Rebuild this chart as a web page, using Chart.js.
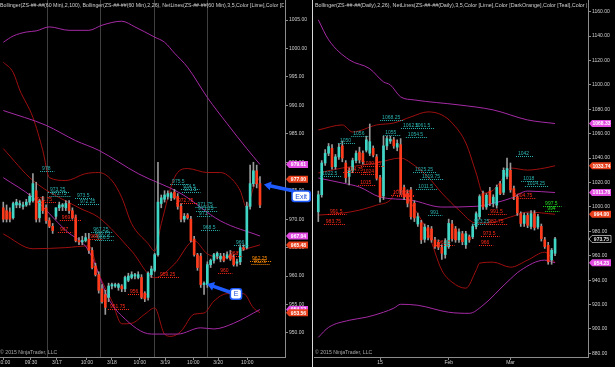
<!DOCTYPE html>
<html><head><meta charset="utf-8">
<script src="https://cdn.jsdelivr.net/npm/chart.js@4"></script>
<style>
html,body{margin:0;padding:0;background:#000;width:615px;height:367px;overflow:hidden}
#l{position:absolute;left:0;top:0}
#r{position:absolute;left:314px;top:0}
#sep{position:absolute;left:312px;top:0;width:1px;height:367px;background:#d8d8d8}
</style></head><body>
<canvas id="l" width="313" height="367" style="width:313px;height:367px"></canvas>
<div id="sep"></div>
<canvas id="r" width="301" height="367" style="width:301px;height:367px"></canvas>
<script>
// ---------- LEFT PANEL (60 Min) ----------
const leftOpen  = [972,971.5,971.25,970.25,972.5,972.5,972.25,972.5,973,973.25,975,970.25,973.25,972,969.75,968.75,970.5,972,972.25,972,972.75,971.5,970.25,966.25,966,966.25,966.5,964.5,961.75,960.25,957.75,956.75,956.25,958.25,958.25,958,958.25,957.75,959.25,959.75,960,959.75,959.75,957,956.25,960.25,961,963.75,972.75,973.5,974,973.75,974.75,974,972.25,970,970.75,970,966.5,963.75,963.5,958.5,958.5,962,962.75,963.5,963,963.5,963.25,963.75,963.25,962.25,962.5,965,965,972.25,976.25,978.5,976.25];
const leftHigh  = [973,972.5,972,973,973.5,973.25,973,973.5,974.5,978,976.5,973.5,974,972.5,970.25,969.25,972,973,972.75,973.25,973.25,972,970.75,966.75,967,967.5,967.5,965,962.25,960.75,958.5,957.5,958.75,958.75,958.75,958.75,958.5,960,960.5,960.75,960.5,960.75,960.25,957.25,960.75,961.75,964,980,974.25,975,975,974.75,975.25,974.5,972.75,971,971,970.5,967,964,964,959,962.5,963,964,964.25,964,964,964.25,964.5,963.75,963,965.5,965.5,973,979.5,980,979.5,977.5];
const leftLow   = [969.5,969.5,969.5,970,972,972,971.75,972.25,972.5,973,969.5,969.5,971,969.25,968.5,967.5,970,971.5,971.5,971.5,971,970,966,965.5,965.5,966,964,961.25,960,957,955.25,953.25,955.5,957.75,958,957.5,957.25,957.25,959,959.5,959.5,959.5,956,955.5,955.75,959.75,960.75,963.5,972,973,973.5,973.25,973.5,971.75,969.5,969.5,970,966,963.5,961,958,956.75,958,961.5,962.25,963,962.5,962.5,963,962.75,961.75,961.75,962,964.5,964.75,971.75,975.75,975.5,972];
const leftClose = [970,970,970,972.75,973,972.75,972.5,973,974,976.25,970,973.25,971.5,969.75,968.75,968,972,972.5,972.5,972.75,971.5,970.25,966.25,966,966.25,966.75,964.5,961.5,960.25,957.5,955.5,954.5,958.25,958.5,958.5,958.5,957.75,959.75,960,960.25,960.25,960.25,956.25,956,960.5,961.25,963.75,973,973.75,974.25,974.5,974.5,973.75,972.25,970,970.5,970.25,966.25,963.75,961.5,958.5,958.75,962,962.75,963.75,964,963.5,962.75,963.75,963,962,962.5,965,964.75,972.25,976.25,978.5,976.25,972.5];

const leftUpper100X = [0,3,7,10,14,20,26,30,36,40,46,49,52,56,62,68,74,78];
const leftUpper100  = [1001.1,1002.2,1002.9,1003.1,1003.8,1003.2,1003.2,1004.1,1004.8,1003.8,1002.0,1001.1,999.2,996.7,991.4,986.8,982.4,979.61];
const leftMid100X   = [0,13,22,29,41,54,66,78];
const leftMid100    = [989.1,986.5,983.8,982.1,978.0,974.5,969.7,967.04];
const leftLower100X = [0,9,19,26,32,36,45,53,60,64,70,78];
const leftLower100  = [977.3,973.8,968.0,964.4,956.0,953.0,949.8,949.8,950.9,950.7,951.7,954.12];
const leftUpper26X  = [0,3,5,9,12,14,19,25,29,33,36,39,44,46,48,52,56,62,66,69,72,74,76,78];
const leftUpper26   = [997.6,995.8,992.7,987.9,982.1,977.3,976.8,978.0,978.2,976.8,973.8,969.2,965.7,964.4,969.2,977.3,978.9,978.2,978.2,977.3,975.0,972.0,975.5,977.4];
const leftMid26X    = [0,9,23,29,39,46,52,58,62,68,72,78];
const leftMid26     = [982.4,976.8,972.0,970.3,964.4,959.7,962.1,966.2,963.9,963.2,964.4,965.48];
const leftLower26X  = [0,9,19,26,29,33,36,39,43,46,49,51,54,58,61,64,68,73,76,78];
const leftLower26   = [967.4,964.8,965.0,965.3,960.4,955.6,951.6,951.7,953.3,954.4,949.8,949.4,950.3,953.3,953.5,955.6,956.9,956.9,954.4,953.56];

const leftTickPos    = [0.2,8.4,16.3,25.4,33,41.5,49.2,57.7,65.3,74.1];
const leftTickLabels = ["10:00","09:30","3/17","10:00","3/18","10:00","3/19","10:00","3/20","10:00"];
const leftSessionBreaks = [13.3,29.4,45.8,61.9];
const leftYTicks = {min:945.77, max:1008.53, step:5};

const leftTags = [[979.61,"979.61","#e24be2"],[977.00,"977.00","#e8401c"],[967.04,"967.04","#e24be2"],[965.48,"965.48","#e8401c"],[954.12,"954.12","#e24be2"],[953.56,"953.56","#e8401c"]];

const TEAL="#2bb3b0", RED="#ff2a1a", ORANGE="#ff8c00", LIME="#22dd22";
const leftNet = [
 [11.8,978.5,"978",TEAL],[14.2,974.7,"973.25",TEAL],[14.6,974.0,"972.75",TEAL],[22.4,973.8,"973.5",TEAL],[23.3,972.7,"972.25",TEAL],
 [27.3,967.8,"967.25",TEAL],[27.8,967.0,"966.75",TEAL],[28.5,966.3,"966.5",TEAL],[51.3,976.25,"975.5",TEAL],[54.6,975.3,"974.5",TEAL],[54.9,974.7,"973.5",TEAL],
 [59.0,972.2,"971.75",TEAL],[59.2,971.5,"971.25",TEAL],[59.5,970.6,"971",TEAL],[60.7,968.1,"968.5",TEAL],[70.7,965.5,"966",TEAL],
 [10.2,973.1,"971.75",RED],[17.8,969.9,"969.75",RED],[17.2,967.8,"967",RED],[26.4,966.6,"966",RED],[47.6,959.9,"959.25",RED],
 [38.5,956.9,"956.5",RED],[32.4,954.2,"951.75",RED],[53.1,972.9,"972.75",RED],[65.9,960.6,"960",RED],[68.9,963.6,"963",RED],
 [75.6,962.7,"962.25",ORANGE],[76.0,962.2,"962.5",ORANGE]
];

// ---------- RIGHT PANEL (Daily) ----------
const rightOpen  = [996,1010,1036,1044,1048,1033,1041,1050,1036,1025,1030,1038,1045,1044,1046.5,1044,1048,1041,1024,1009,1050,1054,1055,1049,1051,1016,1011,1014,1003,986,987,973.5,983,982,973,971,967,961,967.5,986,982,973,978,969,975.5,975.5,984,992,1011,1000,1013,1003,1001.5,1019,1012,1025,1030,1015,1008,994.5,986.5,993,984,994.5,983.5,984,973,968.5,956.5,962];
const rightHigh  = [1013,1038,1047,1052,1051,1043,1052,1054,1038,1032,1040,1046,1049,1046,1058,1068,1050,1043,1026,1058,1058,1058,1057,1055,1056,1018,1014,1016,1005,995,989,986,985,984,975,973,969,974,990,989,984,982,980,980,977,986,996,1010,1013,1011,1016,1010,1018,1021,1032,1040,1036,1017,1010,996,995,995,997,997,994,986,975,971,966,975];
const rightLow   = [988,1008,1034,1042,1031,1031,1039,1037,1020,1018,1028,1036,1036,1035,1045,1042,1041,1022,1004,1006,1047,1052,1048,1046,1010,1006,1000,990,988,984,970,971,973,971,966,965,957,958,966,972,971,971,969,966,971,974,982,990,998,998,1001,1000,999,1010,1010,1023,1012,1006,993,984,984,983,982,981,982,972,966,953,953,960];
const rightClose = [1010,1036,1044,1049.5,1033,1041,1049,1040,1024,1030,1038,1044,1038.5,1037,1055,1053.5,1042.5,1023.5,1008,1050,1056,1055.5,1050,1052,1014,1008,1003,992,991,992,973,983.5,975,973,967.5,967,962,972.5,986.5,974,973,979.5,971.5,978,973,984,994.5,1008.5,1000,1009.5,1003,1008,1016,1011,1030,1031.5,1014,1008.5,995,986.5,993,985,994.5,983,992,974,967.5,955,964.5,973.75];

const rightUpper100X = [0,3,9,15,19,21,24,28,41,51,61,69];
const rightUpper100  = [1153.4,1137.0,1120.6,1113.3,1102.5,1100.0,1090.2,1087.7,1083.6,1079.5,1071.3,1068.33];
const rightMid100X   = [0,7,12,18,27,36,46,51,56,61,69];
const rightMid100    = [1023.7,1019.6,1016.3,1008.1,1005.6,999.9,1000.5,1003.0,1007.0,1013.0,1011.78];
const rightLower100X = [0,3,9,14,19,22,24,29,38,44,48,55,59,66,69];
const rightLower100  = [893.1,901.3,907.1,909.6,913.7,917.0,920.2,919.4,913.7,912.8,919.4,938.3,948.1,956.4,954.23];
const rightUpper26X  = [0,7,10,17,22,27,32,36,39,43,46,48,51,54,56,61,66,69];
const rightUpper26   = [1063.1,1067.2,1061.4,1067.2,1068.8,1073.8,1077.9,1075.4,1068.8,1052.4,1027.8,1011.4,1013.8,1024.5,1031.9,1030.2,1031.9,1033.74];
const rightMid26X    = [0,7,17,24,27,32,36,41,46,49,56,61,69];
const rightMid26     = [1027.8,1031.9,1036.0,1040.1,1036.0,1024.5,1011.4,997.4,986.7,986.7,991.7,995.8,994.0];
const rightLower26X  = [0,7,12,17,21,23,25,27,32,36,39,43,46,47,51,56,61,66,69];
const rightLower26   = [993.3,994.9,997.4,1001.5,1005.6,1013.8,1011.4,1003.2,978.5,948.1,938.3,933.4,948.1,953.9,954.7,950.6,956.4,962.9,954.3];

const rightTickPos    = [18,38,56];
const rightTickLabels = ["15","Feb","Mar"];
const rightYTicks = {min:877.0, max:1169.6, step:20};

const rightTags = [[1068.33,"1068.33","#e24be2"],[1033.74,"1033.74","#e8401c"],[1011.78,"1011.78","#e24be2"],[994.00,"994.00","#e8401c"],[973.75,"973.75","outline"],[954.23,"954.23","#e24be2"]];

const rightNet = [
 [18.6,1071.3,"1068.25",TEAL],[24.7,1064.7,"1062.5",TEAL],[28.2,1064.7,"1061.5",TEAL],[26.1,1057.3,"1054.5",TEAL],[19.5,1059.0,"1055",TEAL],
 [10.2,1058.0,"1056",TEAL],[6.3,1052.4,"1050",TEAL],[1.1,1025.3,"1022.5",TEAL],[28.2,1028.6,"1025.25",TEAL],[30.2,1022.9,"1019.75",TEAL],
 [29.1,1014.6,"1011.5",TEAL],[32.6,993.3,"991",TEAL],[58.2,1041.7,"1042",TEAL],[59.7,1021.2,"1018",TEAL],[60.8,1017.1,"1014.25",TEAL],[45.4,985.9,"983.25",TEAL],
 [7.8,1028.6,"1034.75",RED],[13.0,1033.5,"1030.25",RED],[13.0,1027.0,"1024",RED],[12.2,1017.9,"1015",RED],[21.8,1009.7,"1000.75",RED],[23.5,1009.0,"1002",RED],
 [3.4,994.1,"991.5",RED],[2.2,985.9,"983.75",RED],[50.1,994.1,"991.5",RED],[49.5,985.9,"982.75",RED],[48.0,976.1,"973.5",RED],[47.4,968.7,"966",RED],
 [34.9,968.7,"961.5",RED],[57.1,1007.3,"1004.75",RED],
 [66.1,1000.7,"997.5",LIME],[66.7,996.6,"994",LIME]
];

// Annotations (data coordinates: bar index, price)
const exitArrow = {tip:[79.2,976.1], tail:[88.0,975.0], box:[90.5,974.05], text:"Exit"};
const entryArrow = {tip:[61.9,958.6], tail:[68.8,957.2], box:[70.7,956.85], text:"E"};

// ---------- helpers ----------
const FONT = '"Liberation Sans", Arial, sans-serif';
const UP = "#3fd6c6", DOWN = "#ff3b1c", WICK = "#9a9a9a", PURPLE = "#a52aa5", DARKRED = "#9e0f0f";

function pts(xs, ys){ return xs.map((x,i)=>({x:x, y:ys[i]})); }
function bandSet(xs, ys, color){
  return {type:'line', data:pts(xs,ys), borderColor:color, borderWidth:1, pointRadius:0, cubicInterpolationMode:'monotone', fill:false, order:5};
}
function candleSets(O,H,L,C){
  return [
    {type:'bar', data:H.map((h,i)=>({x:i, y:[L[i],h]})), backgroundColor:WICK, barThickness:1, grouped:false, order:3},
    {type:'bar', data:O.map((o,i)=>({x:i, y:[Math.min(o,C[i]), Math.max(o,C[i])]})), backgroundColor:O.map((o,i)=>C[i]>=o?UP:DOWN), barThickness:2, grouped:false, minBarLength:1, order:2}
  ];
}

function overlayPlugin(cfg){
  return {
    id:'overlay'+cfg.name,
    afterDatasetsDraw(chart){
      const {ctx, chartArea:a, scales:{x,y}} = chart;
      ctx.save();
      ctx.beginPath(); ctx.rect(a.left, a.top, a.right-a.left, a.bottom-a.top); ctx.clip();
      ctx.font = '5px '+FONT; ctx.textBaseline='alphabetic'; ctx.textAlign='left';
      cfg.net.forEach(l=>{
        const px = x.getPixelForValue(l[0]), py = Math.round(y.getPixelForValue(l[1]))+0.5;
        ctx.fillStyle = l[3]; ctx.fillText(l[2], px, py-1.5);
        const w = ctx.measureText(l[2]).width + 4;
        ctx.strokeStyle = l[3]; ctx.lineWidth = 1; ctx.setLineDash([1,1]);
        ctx.beginPath(); ctx.moveTo(px-2, py); ctx.lineTo(px+w, py); ctx.stroke();
      });
      ctx.restore();
    },
    afterDraw(chart){
      const {ctx, chartArea:a, scales:{x,y}} = chart;
      ctx.save();
      // title
      ctx.save(); ctx.beginPath(); ctx.rect(0,0,a.right-1,12); ctx.clip();
      ctx.font = cfg.titleSize+'px '+FONT; ctx.fillStyle='#d0d0d0'; ctx.textAlign='left';
      ctx.fillText(cfg.title, a.left+cfg.titleDx, 7);
      ctx.restore();
      // copyright
      ctx.font = '5.2px '+FONT; ctx.fillStyle='#a8a8a8';
      ctx.fillText("\u00A9 2015 NinjaTrader, LLC", a.left+cfg.titleDx, a.bottom-3);
      // price tags
      ctx.font = 'bold 5px '+FONT; ctx.textAlign='center'; ctx.textBaseline='middle';
      cfg.tags.forEach(t=>{
        const py = y.getPixelForValue(t[0]); const x0 = a.right+1; const w = 22, h = 7;
        ctx.beginPath();
        ctx.moveTo(x0, py); ctx.lineTo(x0+3, py-h/2); ctx.lineTo(x0+w, py-h/2); ctx.lineTo(x0+w, py+h/2); ctx.lineTo(x0+3, py+h/2); ctx.closePath();
        if (t[2]==='outline'){ ctx.fillStyle='#000'; ctx.fill(); ctx.strokeStyle='#c8c8c8'; ctx.lineWidth=0.8; ctx.stroke(); ctx.fillStyle='#e0e0e0'; }
        else { ctx.fillStyle=t[2]; ctx.fill(); ctx.fillStyle='#ffffff'; }
        ctx.fillText(t[1], x0+3+(w-3)/2, py+0.5);
      });
      // arrows
      (cfg.arrows||[]).forEach(ar=>{
        const tx=x.getPixelForValue(ar.tip[0]), ty=y.getPixelForValue(ar.tip[1]);
        const sx=x.getPixelForValue(ar.tail[0]), sy=y.getPixelForValue(ar.tail[1]);
        const ang=Math.atan2(ty-sy, tx-sx);
        const hx = tx - 7*Math.cos(ang), hy = ty - 7*Math.sin(ang);
        ctx.strokeStyle='#1f5cff'; ctx.lineWidth=3.5; ctx.lineCap='round';
        ctx.beginPath(); ctx.moveTo(sx,sy); ctx.lineTo(hx,hy); ctx.stroke();
        ctx.fillStyle='#1f5cff';
        ctx.beginPath(); ctx.moveTo(tx,ty);
        ctx.lineTo(hx+4.5*Math.sin(ang), hy-4.5*Math.cos(ang));
        ctx.lineTo(hx-4.5*Math.sin(ang), hy+4.5*Math.cos(ang)); ctx.closePath(); ctx.fill();
        const bx=x.getPixelForValue(ar.box[0]), by=y.getPixelForValue(ar.box[1]);
        ctx.font='7px '+FONT;
        const bw = ctx.measureText(ar.text).width+8, bh=12;
        ctx.beginPath(); ctx.roundRect(bx-bw/2, by-bh/2, bw, bh, 3);
        ctx.fillStyle='#1f5cff'; ctx.fill();
        ctx.beginPath(); ctx.roundRect(bx-bw/2+1.5, by-bh/2+1.5, bw-3, bh-3, 2);
        ctx.fillStyle='#ffffff'; ctx.fill();
        ctx.fillStyle='#1f4fd8'; ctx.textAlign='center'; ctx.textBaseline='middle';
        ctx.fillText(ar.text, bx, by+0.5);
      });
      ctx.restore();
    }
  };
}

function makeChart(id, o){
  const xMin=o.xMin, xMax=o.xMax;
  const scales = {
    x:{type:'linear', min:xMin, max:xMax, offset:false, position:'bottom', weight:2,
       afterBuildTicks:s=>{ s.ticks = o.tickPos.map(v=>({value:v})); },
       afterFit:s=>{ s.height=10; s.paddingLeft=0; s.paddingRight=0; },
       ticks:{autoSkip:false, maxRotation:0, minRotation:0, color:'#cfcfcf', font:{size:5, family:FONT}, padding:0, callback:(v,i)=>o.tickLabels[i]},
       grid:{drawOnChartArea:false, offset:false, color:'#8c8c8c', tickLength:3, lineWidth:1},
       border:{color:'#8c8c8c'}},
    y:{type:'linear', position:'right', min:o.y.min, max:o.y.max,
       afterBuildTicks:s=>{ const t=[]; for(let v=Math.ceil(o.y.min/o.y.step)*o.y.step; v<=o.y.max; v+=o.y.step) t.push({value:v}); s.ticks=t; },
       afterFit:s=>{ s.width=o.yWidth; s.paddingTop=0; s.paddingBottom=0; },
       ticks:{color:'#cfcfcf', font:{size:5, family:FONT}, padding:1, callback:v=>Number(v).toFixed(2)},
       grid:{drawOnChartArea:false, offset:false, color:'#8c8c8c', tickLength:3},
       border:{color:'#8c8c8c'}}
  };
  if (o.breaks){
    scales.xg = {type:'linear', min:xMin, max:xMax, offset:false, position:'bottom', weight:1,
       afterBuildTicks:s=>{ s.ticks = o.breaks.map(v=>({value:v})); },
       afterFit:s=>{ s.height=0; s.paddingLeft=0; s.paddingRight=0; },
       ticks:{display:false}, grid:{color:'#404040', offset:false, drawTicks:false, lineWidth:1}, border:{display:false}};
  }
  const datasets = [
    bandSet(o.bands[0][0], o.bands[0][1], PURPLE),
    bandSet(o.bands[1][0], o.bands[1][1], PURPLE),
    bandSet(o.bands[2][0], o.bands[2][1], PURPLE),
    bandSet(o.bands[3][0], o.bands[3][1], DARKRED),
    bandSet(o.bands[4][0], o.bands[4][1], DARKRED),
    bandSet(o.bands[5][0], o.bands[5][1], DARKRED),
    ...candleSets(o.O,o.H,o.L,o.C)
  ];
  return new Chart(document.getElementById(id), {
    type:'bar',
    data:{datasets},
    options:{responsive:false, animation:false, devicePixelRatio:1,
      layout:{padding:0},
      plugins:{legend:{display:false}, tooltip:{enabled:false}, title:{display:false}},
      scales},
    plugins:[overlayPlugin(o)]
  });
}

Chart.defaults.font.family = FONT;

makeChart('l', {
  name:'L', xMin:-1.0, xMax:85.6, tickPos:leftTickPos, tickLabels:leftTickLabels, breaks:leftSessionBreaks,
  y:leftYTicks, yWidth:28, O:leftOpen, H:leftHigh, L:leftLow, C:leftClose,
  bands:[[leftUpper100X,leftUpper100],[leftMid100X,leftMid100],[leftLower100X,leftLower100],[leftUpper26X,leftUpper26],[leftMid26X,leftMid26],[leftLower26X,leftLower26]],
  net:leftNet, tags:leftTags, arrows:[exitArrow, entryArrow], titleDx:0, titleSize:5.25,
  title:"Bollinger(ZS-##-##(60 Min),2,100), Bollinger(ZS-##-##(60 Min),2,26), NetLines(ZS-##-##(60 Min),3,5,Color [Lime],Color [DarkOrange],Color [Teal],Color [Red])"
});
makeChart('r', {
  name:'R', xMin:-1.25, xMax:78.6, tickPos:rightTickPos, tickLabels:rightTickLabels,
  y:rightYTicks, yWidth:27, O:rightOpen, H:rightHigh, L:rightLow, C:rightClose,
  bands:[[rightUpper100X,rightUpper100],[rightMid100X,rightMid100],[rightLower100X,rightLower100],[rightUpper26X,rightUpper26],[rightMid26X,rightMid26],[rightLower26X,rightLower26]],
  net:rightNet, tags:rightTags, arrows:[], titleDx:1, titleSize:5.4,
  title:"Bollinger(ZS-##-##(Daily),2,26), NetLines(ZS-##-##(Daily),3,5,Color [Lime],Color [DarkOrange],Color [Teal],Color [Red])"
});
</script></body></html>
